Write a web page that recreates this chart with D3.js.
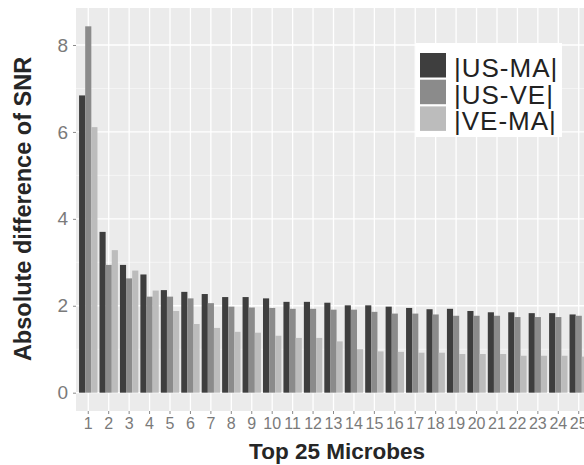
<!DOCTYPE html>
<html>
<head>
<meta charset="utf-8">
<script src="https://cdn.jsdelivr.net/npm/d3@7"></script>
<style>
  html, body { margin: 0; padding: 0; background: #ffffff; }
  svg { display: block; font-family: "Liberation Sans", Arial, Helvetica, sans-serif; }
</style>
</head>
<body>
<svg id="chart" width="584" height="465"></svg>
<script>
const categories = ["1","2","3","4","5","6","7","8","9","10","11","12","13","14","15","16","17","18","19","20","21","22","23","24","25"];
const seriesNames = ["|US-MA|", "|US-VE|", "|VE-MA|"];
const usMa = [6.84, 3.70, 2.94, 2.72, 2.36, 2.32, 2.27, 2.20, 2.20, 2.17, 2.09, 2.09, 2.07, 2.01, 2.01, 1.98, 1.95, 1.92, 1.93, 1.88, 1.85, 1.85, 1.83, 1.83, 1.80];
const usVe = [8.43, 2.94, 2.63, 2.21, 2.21, 2.17, 2.06, 1.98, 1.96, 1.95, 1.93, 1.93, 1.91, 1.91, 1.86, 1.82, 1.82, 1.80, 1.77, 1.77, 1.77, 1.74, 1.74, 1.74, 1.77];
const veMa = [6.11, 3.28, 2.81, 2.35, 1.88, 1.58, 1.49, 1.40, 1.38, 1.31, 1.26, 1.26, 1.18, 1.00, 0.95, 0.94, 0.92, 0.92, 0.89, 0.89, 0.89, 0.85, 0.85, 0.85, 0.83];
const yTicks = [0, 2, 4, 6, 8];
const yMinorTicks = [1, 3, 5, 7];
const colors = ["#3e3e3e", "#8b8b8b", "#bcbcbc"];

const seriesValues = [usMa, usVe, veMa];
const data = categories.map((c, i) => ({ cat: c, vals: seriesNames.map((s, k) => ({ key: s, value: seriesValues[k][i] })) }));

const svg = d3.select("#chart");
const panel = { left: 76, right: 591, top: 8, bottom: 411 };

const maxV = d3.max(seriesValues.flat());
const x = d3.scaleBand().domain(categories).range([panel.left, panel.right]).paddingInner(0.1).paddingOuter(0.15);
const xSub = d3.scaleBand().domain(seriesNames).range([0, x.bandwidth()]);
const y = d3.scaleLinear().domain([-0.05 * maxV, maxV * 1.05]).range([panel.bottom, panel.top]);
const color = d3.scaleOrdinal().domain(seriesNames).range(colors);

// panel background
svg.append("rect").attr("x", panel.left).attr("y", panel.top)
  .attr("width", panel.right - panel.left).attr("height", panel.bottom - panel.top)
  .attr("fill", "#ebebeb");

const grid = svg.append("g");
grid.selectAll("line.minor").data(yMinorTicks).join("line")
  .attr("x1", panel.left).attr("x2", panel.right)
  .attr("y1", d => y(d)).attr("y2", d => y(d))
  .attr("stroke", "#f7f7f7").attr("stroke-width", 0.8);
grid.selectAll("line.major").data(yTicks).join("line")
  .attr("x1", panel.left).attr("x2", panel.right)
  .attr("y1", d => y(d)).attr("y2", d => y(d))
  .attr("stroke", "#ffffff").attr("stroke-width", 1.3);
grid.selectAll("line.vx").data(categories).join("line")
  .attr("x1", d => x(d) + x.bandwidth() / 2).attr("x2", d => x(d) + x.bandwidth() / 2)
  .attr("y1", panel.top).attr("y2", panel.bottom)
  .attr("stroke", "#ffffff").attr("stroke-width", 1.3);

// bars
const groups = svg.append("g").selectAll("g").data(data).join("g")
  .attr("transform", d => `translate(${x(d.cat)},0)`);
groups.selectAll("rect").data(d => d.vals).join("rect")
  .attr("x", d => xSub(d.key))
  .attr("width", xSub.bandwidth())
  .attr("y", d => y(d.value))
  .attr("height", d => y(0) - y(d.value))
  .attr("fill", d => color(d.key));

// axes
const yAxis = d3.axisLeft(y).tickValues(yTicks).tickSize(3).tickPadding(5);
const gy = svg.append("g").attr("transform", `translate(${panel.left},0)`).call(yAxis);
gy.select(".domain").remove();
gy.selectAll(".tick line").attr("stroke", "#8a8a8a");
gy.selectAll(".tick text").attr("fill", "#7a7a7a").style("font-size", "19px")
  .style("font-family", "'Liberation Sans', Arial, sans-serif");

const xAxis = d3.axisBottom(x).tickSize(3).tickPadding(4);
const gx = svg.append("g").attr("transform", `translate(0,${panel.bottom})`).call(xAxis);
gx.select(".domain").remove();
gx.selectAll(".tick line").attr("stroke", "#8a8a8a");
gx.selectAll(".tick text").attr("fill", "#7a7a7a").style("font-size", "16px")
  .style("font-family", "'Liberation Sans', Arial, sans-serif");

// titles
svg.append("text").attr("x", 337).attr("y", 459).attr("text-anchor", "middle")
  .attr("font-weight", "bold").attr("font-size", 22.5).attr("fill", "#262626")
  .text("Top 25 Microbes");
svg.append("text").attr("transform", "translate(31,209) rotate(-90)").attr("text-anchor", "middle")
  .attr("font-weight", "bold").attr("font-size", 23.5).attr("fill", "#262626")
  .text("Absolute difference of SNR");

// legend
const lg = svg.append("g").attr("transform", "translate(416,43)");
lg.append("rect").attr("width", 146).attr("height", 94).attr("fill", "#ffffff");
const rowH = 26.7;
const items = lg.selectAll("g").data(seriesNames).join("g")
  .attr("transform", (d, i) => `translate(4,${10 + i * rowH})`);
items.append("rect").attr("width", 26).attr("height", 24.5).attr("fill", d => color(d));
items.append("text").attr("x", 34).attr("y", 24).attr("font-size", 26).attr("fill", "#222")
  .attr("letter-spacing", 1)
  .text(d => d);
</script>
</body>
</html>
